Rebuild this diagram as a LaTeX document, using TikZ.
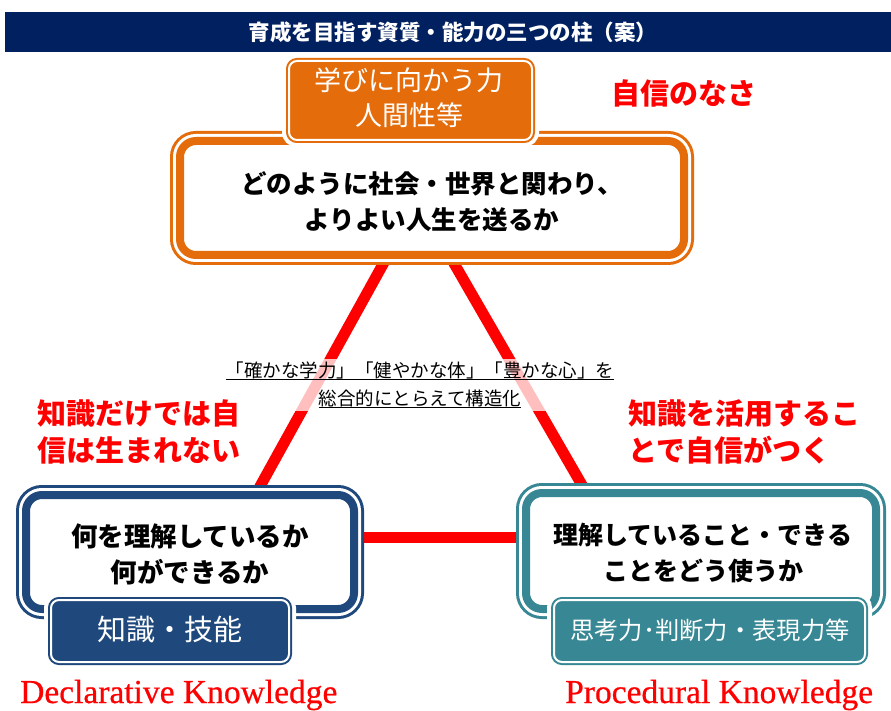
\documentclass[tikz,border=0pt]{standalone}
\usepackage{fontspec}
\newfontfamily\jp{Noto Sans CJK JP}
\newfontfamily\enserif[FakeBold=0.6]{Liberation Serif}
\usetikzlibrary{calc}
\definecolor{barblue}{RGB}{0,32,96}
\definecolor{orng}{RGB}{228,108,10}
\definecolor{navy}{RGB}{31,73,125}
\definecolor{tealc}{RGB}{55,136,148}
\definecolor{redc}{RGB}{255,0,0}
\newcommand\myul[1]{\setbox0\hbox{#1}\rlap{\raisebox{-3pt}{\rule{\wd0}{0.9pt}}}\box0}
\begin{document}
\begin{tikzpicture}[x=1pt,y=-1pt,
  frame/.style={draw=#1, line width=8pt, fill=white, rounded corners=16pt, inner sep=0pt,
    preaction={draw=#1, line width=20pt}, preaction={draw=white, line width=14pt}},
  tag/.style={fill=#1, draw=#1, line width=2pt, double=white, double distance=2pt,
    rounded corners=8pt, inner sep=0pt, text=white,
    preaction={draw=white, line width=14pt}},
  maintext/.style={align=center, text=black, font=\jp\bfseries\fontsize{#1}{36}\selectfont},
  tagtext/.style={align=center, text=white, font=\jp\fontsize{#1}{35}\selectfont},
  note/.style={align=left, text=redc, font=\jp\bfseries\fontsize{29}{37}\selectfont, inner sep=0pt},
  eng/.style={text=redc, font=\enserif\fontsize{33.5}{36}\selectfont, inner sep=0pt},
  redline/.style={draw=redc, line width=11pt}
]
\useasboundingbox (0,0) rectangle (891,711);
\fill[white] (0,0) rectangle (891,711);

% title bar
\node[fill=barblue, minimum width=886pt, minimum height=40pt, inner sep=0pt] (bar) at (448,32) {};
\node[text=white, font=\jp\bfseries\fontsize{21.5}{24}\selectfont] (title) at (453,32) {育成を目指す資質・能力の三つの柱（案）};

% triangle
\coordinate (apex) at (418,201);
\coordinate (lv) at (232,537);
\coordinate (rv) at (612,537);
\draw[redline] (apex) -- (lv);
\draw[redline] (apex) -- (rv);
\draw[redline] (lv) -- (rv);

% frames
\node[frame=orng, minimum width=504pt, minimum height=114pt] (topbox) at (432,198) {};
\node[frame=navy, minimum width=328pt, minimum height=114pt] (leftbox) at (190,552) {};
\node[frame=tealc, minimum width=350pt, minimum height=116pt] (rightbox) at (701,551) {};

% tags
\node[tag=orng, minimum width=243pt, minimum height=79pt] (toptag) at (410.5,100.5) {};
\node[tag=navy, minimum width=238pt, minimum height=62pt] (lefttag) at (170,631) {};
\node[tag=tealc, minimum width=311pt, minimum height=62pt] (righttag) at (709.5,631) {};

% tag texts
\node[tagtext=27] (toptagtext) at (409,98) {学びに向かう力\\人間性等};
\node[tagtext=29] (lefttagtext) at (170,630) {知識・技能};
\node[tagtext=24.3] (righttagtext) at (710,630) {思考力･判断力・表現力等};

% main texts
\node[maintext=25.5] (toptext) at (432,202) {どのように社会・世界と関わり、\\よりよい人生を送るか};
\node[maintext=26.5] (lefttext) at (190,554) {何を理解しているか\\何ができるか};
\node[maintext=25] (righttext) at (703,553) {理解していること・できる\\ことをどう使うか};

% centre text
\node[fill=white, fill opacity=0.75, text opacity=1, inner sep=3pt, align=center,
  font=\jp\fontsize{18.5}{28}\selectfont] (centre) at (420,385)
  {\myul{「確かな学力」「健やかな体」「豊かな心」を}\\\myul{総合的にとらえて構造化}};

% red notes
\node[note, anchor=west] (n1) at (611,93) {自信のなさ};
\node[note, anchor=west] (n2) at (37,432) {知識だけでは自\\信は生まれない};
\node[note, anchor=west] (n3) at (628,432) {知識を活用するこ\\とで自信がつく};

% english
\node[eng, anchor=base west] (decl) at (20,703) {Declarative Knowledge};
\node[eng, anchor=base west] (proc) at (565,703) {Procedural Knowledge};
\end{tikzpicture}
\end{document}
